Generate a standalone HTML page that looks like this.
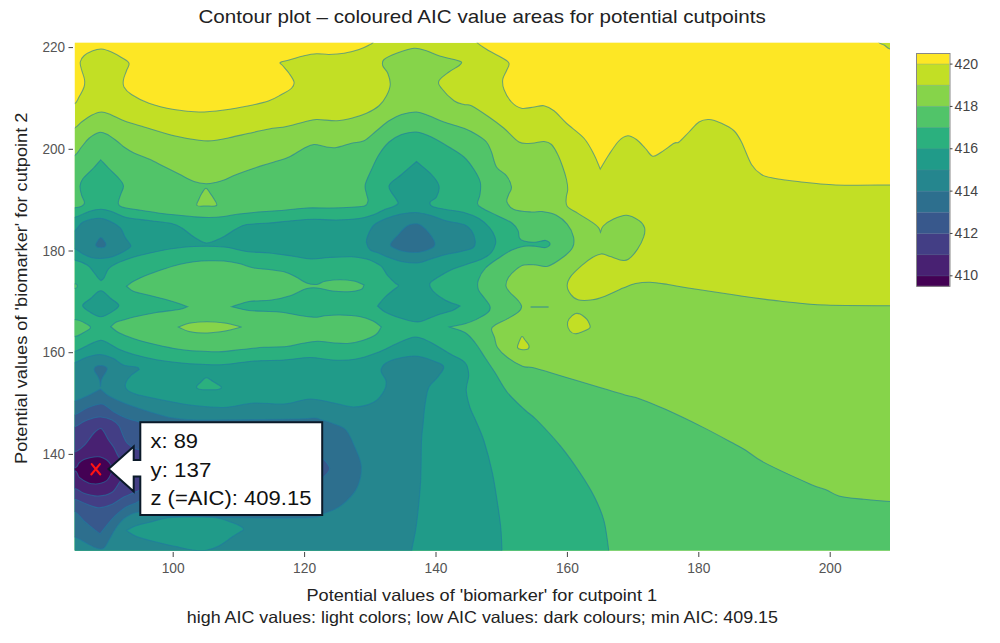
<!DOCTYPE html>
<html><head><meta charset="utf-8"><style>
html,body{margin:0;padding:0;background:#fff;}
body{width:1000px;height:643px;overflow:hidden;}
svg{display:block;font-family:"Liberation Sans",sans-serif;}
.tk{font-size:14px;fill:#555;}
.cbt{font-size:13.8px;fill:#444;}
.ttl{font-size:18.5px;fill:#222;}
.ax{font-size:16.5px;fill:#222;}
.bx{font-size:20px;fill:#111;}
</style></head><body>
<svg width="1000" height="643" viewBox="0 0 1000 643">
<defs><clipPath id="pc"><rect x="74.8" y="42.7" width="815.2" height="507.90000000000003"/></clipPath></defs>
<text x="482.1" y="23.3" class="ttl" text-anchor="middle" textLength="567.4" lengthAdjust="spacingAndGlyphs">Contour plot – coloured AIC value areas for potential cutpoints</text>
<g clip-path="url(#pc)" stroke="#1f78a4" stroke-width="1.05" stroke-opacity="0.6">
<rect x="74.8" y="42.7" width="815.2" height="507.90000000000003" fill="#c2df25" stroke="none"/>
<path d="M60.00 30.00L60.00 104.00C64.67 104.00 70.83 105.17 74.00 104.00C77.17 102.83 77.33 99.83 79.00 97.00C80.67 94.17 83.08 89.92 84.00 87.00C84.92 84.08 84.92 82.42 84.50 79.50C84.08 76.58 82.21 72.42 81.50 69.50C80.79 66.58 79.83 64.29 80.25 62.00C80.67 59.71 81.92 57.62 84.00 55.75C86.08 53.88 89.83 51.88 92.75 50.75C95.67 49.62 98.38 48.79 101.50 49.00C104.62 49.21 108.17 50.58 111.50 52.00C114.83 53.42 118.58 55.62 121.50 57.50C124.42 59.38 128.17 61.04 129.00 63.25C129.83 65.46 127.42 68.04 126.50 70.75C125.58 73.46 123.92 76.79 123.50 79.50C123.08 82.21 122.67 84.50 124.00 87.00C125.33 89.50 127.33 91.79 131.50 94.50C135.67 97.21 141.92 100.75 149.00 103.25C156.08 105.75 165.67 108.04 174.00 109.50C182.33 110.96 190.67 111.92 199.00 112.00C207.33 112.08 215.67 111.04 224.00 110.00C232.33 108.96 241.50 107.29 249.00 105.75C256.50 104.21 263.58 102.62 269.00 100.75C274.42 98.88 277.75 96.58 281.50 94.50C285.25 92.42 289.42 90.33 291.50 88.25C293.58 86.17 294.42 84.50 294.00 82.00C293.58 79.50 290.88 75.96 289.00 73.25C287.12 70.54 284.21 67.54 282.75 65.75C281.29 63.96 279.21 63.46 280.25 62.50C281.29 61.54 285.04 61.12 289.00 60.00C292.96 58.88 299.42 56.79 304.00 55.75C308.58 54.71 312.33 53.96 316.50 53.75C320.67 53.54 324.42 54.58 329.00 54.50C333.58 54.42 339.00 54.08 344.00 53.25C349.00 52.42 354.83 50.88 359.00 49.50C363.17 48.12 366.58 46.25 369.00 45.00C371.42 43.75 371.67 44.50 373.50 42.00C375.33 39.50 377.83 34.00 380.00 30.00L60.00 30.00Z" fill="#fde725"/>
<path d="M470.00 30.00C472.17 34.00 473.33 38.54 476.50 42.00C479.67 45.46 484.83 48.17 489.00 50.75C493.17 53.33 498.17 55.42 501.50 57.50C504.83 59.58 508.17 61.04 509.00 63.25C509.83 65.46 507.54 68.04 506.50 70.75C505.46 73.46 503.17 76.38 502.75 79.50C502.33 82.62 502.54 85.75 504.00 89.50C505.46 93.25 508.58 98.88 511.50 102.00C514.42 105.12 517.75 107.42 521.50 108.25C525.25 109.08 530.25 107.42 534.00 107.00C537.75 106.58 540.67 105.12 544.00 105.75C547.33 106.38 550.25 107.83 554.00 110.75C557.75 113.67 561.50 118.67 566.50 123.25C571.50 127.83 579.42 133.04 584.00 138.25C588.58 143.46 591.29 149.38 594.00 154.50C596.71 159.62 598.17 164.17 600.25 169.00C603.17 164.17 605.88 159.21 609.00 154.50C612.12 149.79 615.88 143.88 619.00 140.75C622.12 137.62 624.83 135.96 627.75 135.75C630.67 135.54 633.58 137.42 636.50 139.50C639.42 141.58 642.54 145.46 645.25 148.25C647.96 151.04 650.04 155.62 652.75 156.25C655.46 156.88 657.96 154.17 661.50 152.00C665.04 149.83 671.08 144.92 674.00 143.25C676.92 141.58 676.50 143.88 679.00 142.00C681.50 140.12 685.67 135.33 689.00 132.00C692.33 128.67 695.67 124.08 699.00 122.00C702.33 119.92 705.25 119.29 709.00 119.50C712.75 119.71 717.33 121.38 721.50 123.25C725.67 125.12 730.67 127.62 734.00 130.75C737.33 133.88 738.58 136.38 741.50 142.00C744.42 147.62 748.17 159.08 751.50 164.50C754.83 169.92 757.75 172.21 761.50 174.50C765.25 176.79 768.33 177.12 774.00 178.25C779.67 179.38 785.18 180.19 795.50 181.30C805.82 182.41 820.15 184.28 835.90 184.90C851.65 185.52 879.32 184.98 890.00 185.00C900.68 185.02 896.67 185.00 900.00 185.00L900.00 49.50C896.67 49.33 892.67 49.75 890.00 49.00C887.33 48.25 885.92 46.17 884.00 45.00C882.08 43.83 880.33 44.50 878.50 42.00C876.67 39.50 874.83 34.00 873.00 30.00L470.00 30.00Z" fill="#fde725"/>
<path d="M60.00 128.25C64.67 128.25 70.42 129.29 74.00 128.25C77.58 127.21 78.58 124.17 81.50 122.00C84.42 119.83 88.17 116.92 91.50 115.25C94.83 113.58 98.17 112.04 101.50 112.00C104.83 111.96 107.75 113.54 111.50 115.00C115.25 116.46 118.58 118.75 124.00 120.75C129.42 122.75 135.67 124.50 144.00 127.00C152.33 129.50 164.83 133.54 174.00 135.75C183.17 137.96 192.75 139.42 199.00 140.25C205.25 141.08 206.50 141.17 211.50 140.75C216.50 140.33 222.75 139.00 229.00 137.75C235.25 136.50 242.33 134.71 249.00 133.25C255.67 131.79 262.75 130.12 269.00 129.00C275.25 127.88 280.67 127.67 286.50 126.50C292.33 125.33 299.00 123.17 304.00 122.00C309.00 120.83 311.08 119.71 316.50 119.50C321.92 119.29 330.67 120.96 336.50 120.75C342.33 120.54 346.50 119.50 351.50 118.25C356.50 117.00 361.92 115.33 366.50 113.25C371.08 111.17 375.67 108.67 379.00 105.75C382.33 102.83 384.62 99.29 386.50 95.75C388.38 92.21 390.04 88.25 390.25 84.50C390.46 80.75 389.00 76.38 387.75 73.25C386.50 70.12 383.38 68.04 382.75 65.75C382.12 63.46 381.71 61.58 384.00 59.50C386.29 57.42 391.50 55.12 396.50 53.25C401.50 51.38 409.00 48.67 414.00 48.25C419.00 47.83 422.33 49.50 426.50 50.75C430.67 52.00 434.42 54.29 439.00 55.75C443.58 57.21 450.25 58.46 454.00 59.50C457.75 60.54 460.67 60.96 461.50 62.00C462.33 63.04 461.08 64.08 459.00 65.75C456.92 67.42 452.33 69.50 449.00 72.00C445.67 74.50 440.25 78.04 439.00 80.75C437.75 83.46 439.00 84.92 441.50 88.25C444.00 91.58 450.25 98.04 454.00 100.75C457.75 103.46 461.08 103.67 464.00 104.50C466.92 105.33 467.33 103.67 471.50 105.75C475.67 107.83 483.58 113.25 489.00 117.00C494.42 120.75 499.00 124.08 504.00 128.25C509.00 132.42 514.42 139.50 519.00 142.00C523.58 144.50 527.33 143.33 531.50 143.25C535.67 143.17 540.67 141.29 544.00 141.50C547.33 141.71 549.21 142.33 551.50 144.50C553.79 146.67 555.88 150.75 557.75 154.50C559.62 158.25 561.29 162.83 562.75 167.00C564.21 171.17 565.67 175.75 566.50 179.50C567.33 183.25 567.78 186.55 567.75 189.50C567.72 192.45 566.39 194.42 566.30 197.20C566.21 199.98 565.25 203.50 567.20 206.20C569.15 208.90 573.80 210.70 578.00 213.40C582.20 216.10 588.95 220.00 592.40 222.40C595.85 224.80 597.35 226.15 598.70 227.80C600.05 229.45 599.90 230.80 600.50 232.30C601.40 230.20 600.95 228.25 603.20 226.00C605.45 223.75 610.10 220.60 614.00 218.80C617.90 217.00 622.40 214.90 626.60 215.20C630.80 215.50 636.20 218.50 639.20 220.60C642.20 222.70 643.85 225.10 644.60 227.80C645.35 230.50 644.90 233.20 643.70 236.80C642.50 240.40 639.95 245.65 637.40 249.40C634.85 253.15 631.10 257.50 628.40 259.30C625.70 261.10 624.20 260.65 621.20 260.20C618.20 259.75 613.70 257.65 610.40 256.60C607.10 255.55 604.40 253.75 601.40 253.90C598.40 254.05 595.70 255.55 592.40 257.50C589.10 259.45 585.20 262.45 581.60 265.60C578.00 268.75 573.20 273.10 570.80 276.40C568.40 279.70 567.20 282.40 567.20 285.40C567.20 288.40 569.00 292.00 570.80 294.40C572.60 296.80 574.40 298.90 578.00 299.80C581.60 300.70 587.90 300.40 592.40 299.80C596.90 299.20 599.90 298.15 605.00 296.20C610.10 294.25 617.90 290.20 623.00 288.10C628.10 286.00 631.10 284.58 635.60 283.60C640.10 282.62 644.60 282.05 650.00 282.20C655.40 282.35 661.90 283.58 668.00 284.50C674.10 285.42 675.72 285.98 686.60 287.70C697.48 289.42 717.75 292.57 733.30 294.80C748.85 297.03 764.35 299.38 779.90 301.10C795.45 302.82 808.25 304.33 826.60 305.10C844.95 305.87 877.77 305.60 890.00 305.70C902.23 305.80 896.67 305.70 900.00 305.70L900.00 560.00L60.00 560.00L60.00 128.25Z" fill="#86d44a"/>
<path d="M60.00 155.75C64.67 155.75 70.42 157.21 74.00 155.75C77.58 154.29 79.00 149.92 81.50 147.00C84.00 144.08 86.08 140.67 89.00 138.25C91.92 135.83 96.08 133.21 99.00 132.50C101.92 131.79 103.58 132.62 106.50 134.00C109.42 135.38 113.58 138.58 116.50 140.75C119.42 142.92 121.08 144.96 124.00 147.00C126.92 149.04 129.83 151.00 134.00 153.00C138.17 155.00 144.00 156.75 149.00 159.00C154.00 161.25 159.00 164.00 164.00 166.50C169.00 169.00 174.00 171.50 179.00 174.00C184.00 176.50 189.50 179.88 194.00 181.50C198.50 183.12 202.25 183.62 206.00 183.75C209.75 183.88 213.50 182.88 216.50 182.25C219.50 181.62 220.67 181.29 224.00 180.00C227.33 178.71 231.50 176.46 236.50 174.50C241.50 172.54 247.75 170.33 254.00 168.25C260.25 166.17 268.17 163.88 274.00 162.00C279.83 160.12 284.00 159.29 289.00 157.00C294.00 154.71 299.83 150.33 304.00 148.25C308.17 146.17 310.25 144.71 314.00 144.50C317.75 144.29 322.75 146.50 326.50 147.00C330.25 147.50 332.33 148.12 336.50 147.50C340.67 146.88 346.92 144.38 351.50 143.25C356.08 142.12 359.83 142.83 364.00 140.75C368.17 138.67 372.33 134.08 376.50 130.75C380.67 127.42 384.83 123.46 389.00 120.75C393.17 118.04 396.92 115.96 401.50 114.50C406.08 113.04 411.92 111.79 416.50 112.00C421.08 112.21 424.42 114.08 429.00 115.75C433.58 117.42 438.17 119.92 444.00 122.00C449.83 124.08 458.58 126.17 464.00 128.25C469.42 130.33 472.75 132.21 476.50 134.50C480.25 136.79 484.00 139.08 486.50 142.00C489.00 144.92 489.83 147.83 491.50 152.00C493.17 156.17 494.00 163.04 496.50 167.00C499.00 170.96 504.00 172.42 506.50 175.75C509.00 179.08 511.17 183.79 511.50 187.00C511.83 190.21 509.25 192.50 508.50 195.00C507.75 197.50 506.08 199.58 507.00 202.00C507.92 204.42 509.92 207.83 514.00 209.50C518.08 211.17 526.83 211.65 531.50 212.00C536.17 212.35 537.85 211.07 542.00 211.60C546.15 212.13 552.20 213.10 556.40 215.20C560.60 217.30 564.35 220.60 567.20 224.20C570.05 227.80 572.60 232.90 573.50 236.80C574.40 240.70 574.18 244.32 572.60 247.60C571.02 250.88 568.10 253.40 564.00 256.50C559.90 259.60 552.67 264.78 548.00 266.20C543.33 267.62 540.00 265.20 536.00 265.00C532.00 264.80 527.40 264.20 524.00 265.00C520.60 265.80 518.20 267.70 515.60 269.80C513.00 271.90 510.00 274.90 508.40 277.60C506.80 280.30 505.80 283.60 506.00 286.00C506.20 288.40 507.60 289.60 509.60 292.00C511.60 294.40 516.00 298.00 518.00 300.40C520.00 302.80 521.60 304.40 521.60 306.40C521.60 308.40 520.60 310.20 518.00 312.40C515.40 314.60 509.67 317.58 506.00 319.60C502.33 321.62 498.42 322.93 496.00 324.50C493.58 326.07 491.75 326.83 491.50 329.00C491.25 331.17 493.50 334.42 494.50 337.50C495.50 340.58 495.33 344.17 497.50 347.50C499.67 350.83 503.33 354.38 507.50 357.50C511.67 360.62 518.33 364.58 522.50 366.25C526.67 367.92 527.92 366.46 532.50 367.50C537.08 368.54 542.92 370.42 550.00 372.50C557.08 374.58 566.67 377.50 575.00 380.00C583.33 382.50 591.67 385.00 600.00 387.50C608.33 390.00 618.33 393.10 625.00 395.00C631.67 396.90 633.35 396.55 640.00 398.90C646.65 401.25 654.53 404.43 664.90 409.10C675.27 413.77 690.80 421.20 702.20 426.90C713.60 432.60 726.05 439.42 733.30 443.30C740.55 447.18 740.52 446.98 745.70 450.20C750.88 453.42 753.52 456.90 764.40 462.60C775.28 468.30 800.63 479.83 811.00 484.40C821.37 488.97 821.93 488.08 826.60 490.00C831.27 491.92 832.78 494.35 839.00 495.90C845.22 497.45 855.40 498.37 863.90 499.30C872.40 500.23 883.98 501.13 890.00 501.50C896.02 501.87 896.67 501.50 900.00 501.50L900.00 560.00L60.00 560.00L60.00 155.75Z" fill="#51c469"/>
<path d="M60.00 207.75C64.67 207.75 70.42 208.00 74.00 207.75C77.58 207.50 79.75 207.12 81.50 206.25C83.25 205.38 84.50 204.38 84.50 202.50C84.50 200.62 82.25 197.75 81.50 195.00C80.75 192.25 79.75 188.75 80.00 186.00C80.25 183.25 80.75 181.50 83.00 178.50C85.25 175.50 90.55 171.12 93.50 168.00C96.45 164.88 98.30 162.50 100.70 159.75C103.30 162.50 105.45 164.88 108.50 168.00C111.55 171.12 116.50 175.50 119.00 178.50C121.50 181.50 123.25 183.25 123.50 186.00C123.75 188.75 121.38 192.12 120.50 195.00C119.62 197.88 118.00 201.25 118.25 203.25C118.50 205.25 119.38 206.00 122.00 207.00C124.62 208.00 129.50 208.50 134.00 209.25C138.50 210.00 144.00 210.75 149.00 211.50C154.00 212.25 159.00 213.12 164.00 213.75C169.00 214.38 174.00 214.75 179.00 215.25C184.00 215.75 189.00 216.38 194.00 216.75C199.00 217.12 204.00 217.54 209.00 217.50C214.00 217.46 219.00 217.08 224.00 216.50C229.00 215.92 232.75 214.79 239.00 214.00C245.25 213.21 254.00 212.38 261.50 211.75C269.00 211.12 276.50 210.88 284.00 210.25C291.50 209.62 299.00 208.38 306.50 208.00C314.00 207.62 321.50 208.12 329.00 208.00C336.50 207.88 345.50 207.62 351.50 207.25C357.50 206.88 362.25 206.88 365.00 205.75C367.75 204.62 367.75 202.46 368.00 200.50C368.25 198.54 366.96 196.67 366.50 194.00C366.04 191.33 364.42 188.58 365.25 184.50C366.08 180.42 369.21 174.50 371.50 169.50C373.79 164.50 376.08 159.08 379.00 154.50C381.92 149.92 385.25 145.33 389.00 142.00C392.75 138.67 396.92 136.17 401.50 134.50C406.08 132.83 411.50 131.58 416.50 132.00C421.50 132.42 426.08 134.50 431.50 137.00C436.92 139.50 443.58 143.67 449.00 147.00C454.42 150.33 459.83 153.25 464.00 157.00C468.17 160.75 471.29 165.33 474.00 169.50C476.71 173.67 479.25 177.83 480.25 182.00C481.25 186.17 480.46 190.92 480.00 194.50C479.54 198.08 477.17 201.25 477.50 203.50C477.83 205.75 478.75 206.00 482.00 208.00C485.25 210.00 492.00 213.00 497.00 215.50C502.00 218.00 508.50 220.50 512.00 223.00C515.50 225.50 516.75 228.00 518.00 230.50C519.25 233.00 518.50 236.25 519.50 238.00C520.50 239.75 521.45 240.30 524.00 241.00C526.55 241.70 531.20 242.30 534.80 242.20C538.40 242.10 543.05 240.10 545.60 240.40C548.15 240.70 550.10 242.80 550.10 244.00C550.10 245.20 548.15 247.23 545.60 247.60C543.05 247.97 538.40 246.42 534.80 246.20C531.20 245.97 527.80 245.62 524.00 246.25C520.20 246.88 516.00 248.18 512.00 250.00C508.00 251.82 504.40 254.20 500.00 257.20C495.60 260.20 489.20 264.20 485.60 268.00C482.00 271.80 479.60 276.40 478.40 280.00C477.20 283.60 477.40 286.60 478.40 289.60C479.40 292.60 482.47 295.20 484.40 298.00C486.33 300.80 489.40 304.00 490.00 306.40C490.60 308.80 490.33 310.20 488.00 312.40C485.67 314.60 479.83 317.71 476.00 319.60C472.17 321.49 469.42 322.52 465.00 323.75C460.58 324.98 454.67 325.92 449.50 327.00C454.67 328.83 460.75 329.92 465.00 332.50C469.25 335.08 471.67 338.33 475.00 342.50C478.33 346.67 481.67 352.50 485.00 357.50C488.33 362.50 491.25 366.67 495.00 372.50C498.75 378.33 502.50 386.25 507.50 392.50C512.50 398.75 520.12 405.42 525.00 410.00C529.88 414.58 530.83 413.93 536.80 420.00C542.77 426.07 553.60 437.60 560.80 446.40C568.00 455.20 574.40 464.40 580.00 472.80C585.60 481.20 590.40 488.80 594.40 496.80C598.40 504.80 601.60 511.80 604.00 520.80C606.40 529.80 607.80 544.27 608.80 550.80C609.80 557.33 609.60 556.93 610.00 560.00L60.00 560.00L60.00 207.75Z" fill="#2bb07e"/>
<path d="M60.00 217.50C64.67 217.50 69.17 218.50 74.00 217.50C78.83 216.50 84.50 212.88 89.00 211.50C93.50 210.12 97.25 209.25 101.00 209.25C104.75 209.25 107.25 210.12 111.50 211.50C115.75 212.88 120.25 216.00 126.50 217.50C132.75 219.00 141.50 219.50 149.00 220.50C156.50 221.50 166.00 222.25 171.50 223.50C177.00 224.75 178.25 225.75 182.00 228.00C185.75 230.25 190.00 234.50 194.00 237.00C198.00 239.50 202.25 242.50 206.00 243.00C209.75 243.50 213.50 241.08 216.50 240.00C219.50 238.92 220.75 238.33 224.00 236.50C227.25 234.67 232.25 231.00 236.00 229.00C239.75 227.00 241.00 225.50 246.50 224.50C252.00 223.50 261.50 223.62 269.00 223.00C276.50 222.38 284.00 221.38 291.50 220.75C299.00 220.12 306.50 219.38 314.00 219.25C321.50 219.12 329.00 220.12 336.50 220.00C344.00 219.88 352.75 219.42 359.00 218.50C365.25 217.58 370.00 215.88 374.00 214.50C378.00 213.12 379.75 211.58 383.00 210.25C386.25 208.92 391.00 207.62 393.50 206.50C396.00 205.38 397.58 204.75 398.00 203.50C398.42 202.25 397.50 201.96 396.00 199.00C394.50 196.04 388.08 189.83 389.00 185.75C389.92 181.67 396.92 178.54 401.50 174.50C406.08 170.46 411.50 165.83 416.50 161.50C421.50 165.83 427.75 170.46 431.50 174.50C435.25 178.54 438.17 182.00 439.00 185.75C439.83 189.50 437.96 194.29 436.50 197.00C435.04 199.71 430.92 200.42 430.25 202.00C429.58 203.58 429.88 205.25 432.50 206.50C435.12 207.75 440.75 208.50 446.00 209.50C451.25 210.50 458.50 211.00 464.00 212.50C469.50 214.00 474.75 216.00 479.00 218.50C483.25 221.00 486.88 224.50 489.50 227.50C492.12 230.50 493.75 233.75 494.75 236.50C495.75 239.25 496.12 241.25 495.50 244.00C494.88 246.75 493.25 250.50 491.00 253.00C488.75 255.50 486.00 257.12 482.00 259.00C478.00 260.88 472.00 262.50 467.00 264.25C462.00 266.00 456.75 267.38 452.00 269.50C447.25 271.62 442.17 274.67 438.50 277.00C434.83 279.33 430.92 281.17 430.00 283.50C429.08 285.83 430.50 288.25 433.00 291.00C435.50 293.75 440.50 297.50 445.00 300.00C449.50 302.50 455.00 304.00 460.00 306.00C457.50 307.50 456.25 309.00 452.50 310.50C448.75 312.00 442.50 313.25 437.50 315.00C432.50 316.75 426.25 319.88 422.50 321.00C418.75 322.12 418.75 322.25 415.00 321.75C411.25 321.25 405.00 319.62 400.00 318.00C395.00 316.38 388.75 314.00 385.00 312.00C381.25 310.00 380.00 308.00 377.50 306.00C380.00 303.00 382.25 299.75 385.00 297.00C387.75 294.25 391.75 291.38 394.00 289.50C396.25 287.62 398.33 286.83 398.50 285.75C398.67 284.67 396.83 284.71 395.00 283.00C393.17 281.29 389.75 278.25 387.50 275.50C385.25 272.75 383.75 268.75 381.50 266.50C379.25 264.25 376.50 263.25 374.00 262.00C371.50 260.75 370.25 259.88 366.50 259.00C362.75 258.12 357.75 257.00 351.50 256.75C345.25 256.50 335.75 257.12 329.00 257.50C322.25 257.88 317.25 259.25 311.00 259.00C304.75 258.75 298.50 257.00 291.50 256.00C284.50 255.00 276.50 253.75 269.00 253.00C261.50 252.25 254.00 252.50 246.50 251.50C239.00 250.50 232.75 247.83 224.00 247.00C215.25 246.17 202.75 246.21 194.00 246.50C185.25 246.79 179.00 247.62 171.50 248.75C164.00 249.88 155.25 251.88 149.00 253.25C142.75 254.62 139.50 255.25 134.00 257.00C128.50 258.75 120.25 261.75 116.00 263.75C111.75 265.75 110.50 266.62 108.50 269.00C106.50 271.38 105.25 276.08 104.00 278.00C102.75 279.92 102.00 279.67 101.00 280.50C100.25 279.92 100.00 280.17 98.75 278.75C97.50 277.33 95.38 274.25 93.50 272.00C91.62 269.75 90.75 267.25 87.50 265.25C84.25 263.25 78.58 260.88 74.00 260.00C69.42 259.12 64.67 260.00 60.00 260.00L60.00 217.50Z" fill="#209b89"/>
<path d="M100.70 290.70C97.28 290.70 93.52 296.02 90.50 298.50C87.48 300.98 82.60 303.27 82.60 305.60C82.60 307.93 87.48 310.63 90.50 312.50C93.52 314.37 97.28 316.80 100.70 316.80C104.12 316.80 107.97 314.37 111.00 312.50C114.03 310.63 118.90 307.93 118.90 305.60C118.90 303.27 114.03 300.98 111.00 298.50C107.97 296.02 104.12 290.70 100.70 290.70Z" fill="#209b89"/>
<path d="M60.00 351.50C64.67 351.50 69.67 352.38 74.00 351.50C78.33 350.62 82.75 347.75 86.00 346.25C89.25 344.75 91.00 343.50 93.50 342.50C96.00 341.50 98.50 340.12 101.00 340.25C103.50 340.38 105.50 341.75 108.50 343.25C111.50 344.75 114.75 347.38 119.00 349.25C123.25 351.12 127.75 352.75 134.00 354.50C140.25 356.25 149.00 358.38 156.50 359.75C164.00 361.12 171.50 362.00 179.00 362.75C186.50 363.50 194.00 363.96 201.50 364.25C209.00 364.54 215.25 365.04 224.00 364.50C232.75 363.96 244.00 361.75 254.00 361.00C264.00 360.25 274.67 360.58 284.00 360.00C293.33 359.42 301.92 357.50 310.00 357.50C318.08 357.50 325.00 359.71 332.50 360.00C340.00 360.29 347.50 360.50 355.00 359.25C362.50 358.00 370.50 355.12 377.50 352.50C384.50 349.88 390.75 346.08 397.00 343.50C403.25 340.92 409.50 337.25 415.00 337.00C420.50 336.75 424.17 339.21 430.00 342.00C435.83 344.79 444.17 350.33 450.00 353.75C455.83 357.17 461.88 358.96 465.00 362.50C468.12 366.04 468.54 370.42 468.75 375.00C468.96 379.58 466.04 384.58 466.25 390.00C466.46 395.42 468.46 402.50 470.00 407.50C471.54 412.50 473.17 414.42 475.50 420.00C477.83 425.58 481.18 432.18 484.00 441.00C486.82 449.82 490.12 462.30 492.40 472.90C494.68 483.50 496.30 495.42 497.70 504.60C499.10 513.78 500.08 520.30 500.80 528.00C501.52 535.70 501.80 545.47 502.00 550.80C502.20 556.13 502.00 556.93 502.00 560.00L60.00 560.00L60.00 351.50Z" fill="#209b89"/>
<path d="M60.00 231.00C64.67 231.00 70.17 232.50 74.00 231.00C77.83 229.50 78.75 224.12 83.00 222.00C87.25 219.88 94.75 218.25 99.50 218.25C104.25 218.25 108.00 220.38 111.50 222.00C115.00 223.62 118.25 225.50 120.50 228.00C122.75 230.50 123.42 234.33 125.00 237.00C126.58 239.67 129.12 242.29 130.00 244.00C130.88 245.71 131.58 245.83 130.25 247.25C128.92 248.67 125.12 250.88 122.00 252.50C118.88 254.12 115.00 256.00 111.50 257.00C108.00 258.00 104.25 258.38 101.00 258.50C97.75 258.62 95.00 258.50 92.00 257.75C89.00 257.00 86.00 255.50 83.00 254.00C80.00 252.50 77.83 249.62 74.00 248.75C70.17 247.88 64.67 248.75 60.00 248.75L60.00 231.00Z" fill="#25868e"/>
<path d="M366.50 242.50C366.12 240.00 366.75 237.92 368.00 235.00C369.25 232.08 371.00 227.75 374.00 225.00C377.00 222.25 381.50 220.33 386.00 218.50C390.50 216.67 396.00 215.00 401.00 214.00C406.00 213.00 411.00 212.25 416.00 212.50C421.00 212.75 426.00 214.12 431.00 215.50C436.00 216.88 440.50 219.25 446.00 220.75C451.50 222.25 459.75 222.88 464.00 224.50C468.25 226.12 469.62 227.75 471.50 230.50C473.38 233.25 475.00 238.12 475.25 241.00C475.50 243.88 475.38 246.00 473.00 247.75C470.62 249.50 465.50 250.38 461.00 251.50C456.50 252.62 451.00 253.25 446.00 254.50C441.00 255.75 435.50 257.62 431.00 259.00C426.50 260.38 423.50 262.25 419.00 262.75C414.50 263.25 409.00 262.88 404.00 262.00C399.00 261.12 393.25 259.00 389.00 257.50C384.75 256.00 381.62 254.25 378.50 253.00C375.38 251.75 372.25 251.75 370.25 250.00C368.25 248.25 366.88 245.00 366.50 242.50Z" fill="#25868e"/>
<path d="M60.00 362.75C64.67 362.75 69.67 363.62 74.00 362.75C78.33 361.88 81.75 358.88 86.00 357.50C90.25 356.12 95.00 354.38 99.50 354.50C104.00 354.62 109.00 356.50 113.00 358.25C117.00 360.00 119.50 363.50 123.50 365.00C127.50 366.50 134.38 366.50 137.00 367.25C139.62 368.00 138.50 368.75 139.25 369.50C136.50 371.50 133.25 373.25 131.00 375.50C128.75 377.75 126.50 380.75 125.75 383.00C125.00 385.25 125.12 387.25 126.50 389.00C127.88 390.75 130.25 392.12 134.00 393.50C137.75 394.88 142.75 395.88 149.00 397.25C155.25 398.62 164.00 400.38 171.50 401.75C179.00 403.12 185.25 404.54 194.00 405.50C202.75 406.46 214.00 407.92 224.00 407.50C234.00 407.08 244.00 403.58 254.00 403.00C264.00 402.42 274.67 404.67 284.00 404.00C293.33 403.33 301.67 399.17 310.00 399.00C318.33 398.83 326.67 401.67 334.00 403.00C341.33 404.33 347.33 407.17 354.00 407.00C360.67 406.83 369.00 404.67 374.00 402.00C379.00 399.33 382.00 394.50 384.00 391.00C386.00 387.50 386.50 384.33 386.00 381.00C385.50 377.67 381.00 374.00 381.00 371.00C381.00 368.00 382.83 365.17 386.00 363.00C389.17 360.83 394.75 359.12 400.00 358.00C405.25 356.88 411.25 355.50 417.50 356.25C423.75 357.00 433.12 360.62 437.50 362.50C441.88 364.38 443.75 365.00 443.75 367.50C443.75 370.00 440.00 374.17 437.50 377.50C435.00 380.83 430.83 382.92 428.75 387.50C426.67 392.08 425.96 398.75 425.00 405.00C424.04 411.25 423.58 419.00 423.00 425.00C422.42 431.00 421.92 431.27 421.50 441.00C421.08 450.73 421.37 469.28 420.50 483.40C419.63 497.52 417.72 514.77 416.30 525.70C414.88 536.63 412.72 543.28 412.00 549.00C411.28 554.72 412.00 556.33 412.00 560.00L60.00 560.00L60.00 362.75Z" fill="#25868e"/>
<path d="M390.50 244.00C391.25 241.88 395.25 238.00 398.00 235.00C400.75 232.00 404.00 227.88 407.00 226.00C410.00 224.12 413.50 223.75 416.00 223.75C418.50 223.75 419.75 224.38 422.00 226.00C424.25 227.62 427.38 230.75 429.50 233.50C431.62 236.25 434.25 240.12 434.75 242.50C435.25 244.88 435.12 246.12 432.50 247.75C429.88 249.38 423.75 251.62 419.00 252.25C414.25 252.88 408.25 252.25 404.00 251.50C399.75 250.75 395.75 249.00 393.50 247.75C391.25 246.50 389.75 246.12 390.50 244.00Z" fill="#2d6f8e"/>
<path d="M100.70 237.50C99.37 237.50 97.83 240.75 97.00 242.00C96.17 243.25 95.58 244.12 95.75 245.00C95.92 245.88 96.62 246.88 98.00 247.25C99.38 247.62 102.67 247.62 104.00 247.25C105.33 246.88 105.83 245.88 106.00 245.00C106.17 244.12 105.88 243.25 105.00 242.00C104.12 240.75 102.03 237.50 100.70 237.50Z" fill="#2d6f8e"/>
<path d="M94.50 368.00C94.92 367.17 96.00 366.42 97.00 366.00C98.00 365.58 99.33 365.50 100.50 365.50C101.67 365.50 102.92 365.58 104.00 366.00C105.08 366.42 106.58 367.17 107.00 368.00C107.42 368.83 107.00 369.83 106.50 371.00C106.00 372.17 104.83 373.50 104.00 375.00C103.17 376.50 102.08 378.00 101.50 380.00C100.92 382.00 100.83 384.67 100.50 387.00C100.17 384.67 100.08 382.00 99.50 380.00C98.92 378.00 97.83 376.50 97.00 375.00C96.17 373.50 94.92 372.17 94.50 371.00C94.08 369.83 94.08 368.83 94.50 368.00Z" fill="#2d6f8e"/>
<path d="M60.00 401.00C64.67 401.00 69.50 401.83 74.00 401.00C78.50 400.17 82.58 398.00 87.00 396.00C91.42 394.00 96.00 391.33 100.50 389.00C103.33 391.33 105.08 393.67 109.00 396.00C112.92 398.33 118.17 400.67 124.00 403.00C129.83 405.33 137.33 407.83 144.00 410.00C150.67 412.17 159.00 414.67 164.00 416.00C169.00 417.33 168.00 417.33 174.00 418.00C180.00 418.67 180.00 419.83 200.00 420.00C220.00 420.17 275.00 419.33 294.00 419.00C313.00 418.67 309.33 417.83 314.00 418.00C318.67 418.17 318.67 419.00 322.00 420.00C325.33 421.00 330.00 422.33 334.00 424.00C338.00 425.67 342.50 426.08 346.00 430.00C349.50 433.92 352.45 441.42 355.00 447.50C357.55 453.58 360.97 459.80 361.30 466.50C361.63 473.20 360.17 481.35 357.00 487.70C353.83 494.05 347.57 500.38 342.30 504.60C337.03 508.82 332.45 510.77 325.40 513.00C318.35 515.23 327.57 517.50 300.00 518.00C272.43 518.50 186.67 517.00 160.00 516.00C133.33 515.00 145.63 511.83 140.00 512.00C134.37 512.17 129.95 514.70 126.20 517.00C122.45 519.30 120.20 522.27 117.50 525.80C114.80 529.33 112.27 534.48 110.00 538.20C107.73 541.92 106.17 546.45 103.90 548.10C101.63 549.75 99.32 548.92 96.40 548.10C93.48 547.28 90.13 545.05 86.40 543.20C82.67 541.35 78.40 538.03 74.00 537.00C69.60 535.97 64.67 537.00 60.00 537.00L60.00 401.00Z" fill="#2d6f8e"/>
<path d="M60.00 415.00C64.67 415.00 69.50 416.17 74.00 415.00C78.50 413.83 82.58 409.83 87.00 408.00C91.42 406.17 97.33 404.33 100.50 404.00C103.67 403.67 103.75 404.67 106.00 406.00C108.25 407.33 110.67 410.00 114.00 412.00C117.33 414.00 121.83 416.33 126.00 418.00C130.17 419.67 135.00 420.67 139.00 422.00C143.00 423.33 146.33 424.67 150.00 426.00L150.00 500.00C146.67 500.33 142.30 500.55 140.00 501.00C137.70 501.45 138.50 501.70 136.20 502.70C133.90 503.70 129.73 504.82 126.20 507.00C122.67 509.18 118.32 512.67 115.00 515.80C111.68 518.93 108.80 522.80 106.30 525.80C103.80 528.80 102.10 531.13 100.00 533.80C97.57 531.93 95.37 530.37 92.70 528.20C90.03 526.03 87.12 523.58 84.00 520.80C80.88 518.02 78.00 513.05 74.00 511.50C70.00 509.95 64.67 511.50 60.00 511.50L60.00 415.00Z" fill="#38588c"/>
<path d="M315.00 455.00C317.40 456.00 319.77 455.73 322.20 458.00C324.63 460.27 329.60 465.27 329.60 468.60C329.60 471.93 324.63 476.10 322.20 478.00C319.77 479.90 317.40 479.33 315.00 480.00L315.00 455.00Z" fill="#38588c"/>
<path d="M60.00 427.00C64.67 427.00 70.00 427.92 74.00 427.00C78.00 426.08 81.00 422.92 84.00 421.50C87.00 420.08 89.25 419.25 92.00 418.50C94.75 417.75 97.17 416.75 100.50 417.00C103.83 417.25 108.92 418.50 112.00 420.00C115.08 421.50 117.17 423.42 119.00 426.00C120.83 428.58 121.67 432.67 123.00 435.50C124.33 438.33 125.17 440.92 127.00 443.00C128.83 445.08 131.83 446.83 134.00 448.00C136.17 449.17 138.00 449.33 140.00 450.00L140.00 490.00C137.90 490.93 136.40 491.63 133.70 492.80C131.00 493.97 127.53 495.03 123.80 497.00C120.07 498.97 115.43 502.82 111.30 504.60C107.17 506.38 103.15 507.80 99.00 507.70C94.85 507.60 90.57 505.45 86.40 504.00C82.23 502.55 78.40 499.83 74.00 499.00C69.60 498.17 64.67 499.00 60.00 499.00L60.00 427.00Z" fill="#433e85"/>
<path d="M60.00 452.00C64.90 452.00 70.70 453.07 74.70 452.00C78.70 450.93 81.67 447.60 84.00 445.60C86.33 443.60 87.03 442.10 88.70 440.00C90.37 437.90 92.03 434.92 94.00 433.00C95.97 431.08 98.83 428.67 100.50 428.50C102.17 428.33 102.67 430.08 104.00 432.00C105.33 433.92 106.87 437.42 108.50 440.00C110.13 442.58 112.13 444.70 113.80 447.50C115.47 450.30 116.63 453.88 118.50 456.80C120.37 459.72 123.42 461.97 125.00 465.00C126.58 468.03 128.77 472.33 128.00 475.00C127.23 477.67 123.07 478.13 120.40 481.00C117.73 483.87 115.73 489.70 112.00 492.20C108.27 494.70 102.67 495.83 98.00 496.00C93.33 496.17 87.88 494.45 84.00 493.20C80.12 491.95 78.70 489.28 74.70 488.50C70.70 487.72 64.90 488.50 60.00 488.50L60.00 452.00Z" fill="#482172"/>
<path d="M60.00 468.00C65.00 468.00 71.83 468.83 75.00 468.00C78.17 467.17 77.50 464.40 79.00 463.00C80.50 461.60 82.00 460.52 84.00 459.60C86.00 458.68 88.67 457.97 91.00 457.50C93.33 457.03 96.00 456.72 98.00 456.80C100.00 456.88 101.45 457.38 103.00 458.00C104.55 458.62 105.97 459.30 107.30 460.50C108.63 461.70 110.22 463.78 111.00 465.20C111.78 466.62 112.00 467.60 112.00 469.00C112.00 470.40 111.78 471.77 111.00 473.60C110.22 475.43 108.63 478.52 107.30 480.00C105.97 481.48 104.55 481.87 103.00 482.50C101.45 483.13 99.67 483.58 98.00 483.80C96.33 484.02 94.55 483.93 93.00 483.80C91.45 483.67 90.98 484.08 88.70 483.00C86.42 481.92 81.58 479.33 79.30 477.30C77.02 475.27 78.22 471.88 75.00 470.80C71.78 469.72 65.00 470.80 60.00 470.80L60.00 468.00Z" fill="#440154"/>
<path d="M522.00 336.50C521.00 336.83 519.75 340.17 519.00 342.00C518.25 343.83 517.17 346.25 517.50 347.50C517.83 348.75 519.25 349.25 521.00 349.50C522.75 349.75 526.71 349.75 528.00 349.00C529.29 348.25 529.25 346.50 528.75 345.00C528.25 343.50 526.12 341.42 525.00 340.00C523.88 338.58 523.00 336.17 522.00 336.50Z" fill="#c2df25"/>
<path d="M575.00 313.75C573.17 314.58 570.25 317.12 569.00 319.00C567.75 320.88 567.33 323.00 567.50 325.00C567.67 327.00 568.75 329.54 570.00 331.00C571.25 332.46 572.83 333.67 575.00 333.75C577.17 333.83 580.50 332.54 583.00 331.50C585.50 330.46 589.17 329.25 590.00 327.50C590.83 325.75 588.83 322.67 588.00 321.00C587.17 319.33 586.33 318.67 585.00 317.50C583.67 316.33 581.67 314.62 580.00 314.00C578.33 313.38 576.83 312.92 575.00 313.75Z" fill="#c2df25"/>
<path d="M206.00 188.25C204.67 188.25 203.17 191.21 202.00 193.00C200.83 194.79 199.83 196.92 199.00 199.00C198.17 201.08 195.83 204.33 197.00 205.50C198.17 206.67 202.75 206.00 206.00 206.00C209.25 206.00 215.17 206.67 216.50 205.50C217.83 204.33 215.08 201.08 214.00 199.00C212.92 196.92 211.33 194.79 210.00 193.00C208.67 191.21 207.33 188.25 206.00 188.25Z" fill="#86d44a"/>
<path d="M60.00 319.50C64.97 319.50 71.03 319.07 74.90 319.50C78.77 319.93 80.60 320.78 83.20 322.10C85.80 323.42 90.50 325.63 90.50 327.40C90.50 329.17 85.80 331.17 83.20 332.70C80.60 334.23 78.77 335.95 74.90 336.60C71.03 337.25 64.97 336.60 60.00 336.60L60.00 319.50Z" fill="#51c469"/>
<path d="M60.00 283.80C64.97 283.80 72.02 283.42 74.90 283.80C77.78 284.18 77.30 285.33 77.30 286.10C77.30 286.87 77.78 288.02 74.90 288.40C72.02 288.78 64.97 288.40 60.00 288.40L60.00 283.80Z" fill="#51c469"/>
<path d="M126.50 286.25C129.00 284.50 130.25 283.00 134.00 281.00C137.75 279.00 144.00 276.25 149.00 274.25C154.00 272.25 159.00 270.62 164.00 269.00C169.00 267.38 174.00 265.70 179.00 264.50C184.00 263.30 189.00 262.43 194.00 261.80C199.00 261.18 204.00 260.88 209.00 260.75C214.00 260.62 219.00 260.54 224.00 261.00C229.00 261.46 234.00 262.33 239.00 263.50C244.00 264.67 249.00 267.00 254.00 268.00C259.00 269.00 264.00 268.88 269.00 269.50C274.00 270.12 279.50 270.50 284.00 271.75C288.50 273.00 292.25 275.12 296.00 277.00C299.75 278.88 303.00 281.75 306.50 283.00C310.00 284.25 313.92 284.79 317.00 284.50C320.08 284.21 321.17 282.04 325.00 281.25C328.83 280.46 335.00 279.75 340.00 279.75C345.00 279.75 351.00 280.38 355.00 281.25C359.00 282.12 361.00 283.75 364.00 285.00C363.00 286.50 363.75 288.38 361.00 289.50C358.25 290.62 352.25 291.50 347.50 291.75C342.75 292.00 337.50 291.62 332.50 291.00C327.50 290.38 321.92 288.38 317.50 288.00C313.08 287.62 310.42 287.50 306.00 288.75C301.58 290.00 296.75 293.62 291.00 295.50C285.25 297.38 278.50 299.00 271.50 300.00C264.50 301.00 255.62 300.38 249.00 301.50C242.38 302.62 237.50 305.00 231.75 306.75C237.50 308.00 241.12 309.62 249.00 310.50C256.88 311.38 270.25 311.12 279.00 312.00C287.75 312.88 295.25 314.88 301.50 315.75C307.75 316.62 312.58 317.25 316.50 317.25C320.42 317.25 321.08 316.12 325.00 315.75C328.92 315.38 334.25 314.88 340.00 315.00C345.75 315.12 354.00 315.50 359.50 316.50C365.00 317.50 369.38 319.25 373.00 321.00C376.62 322.75 378.50 325.00 381.25 327.00C379.50 329.50 379.12 332.25 376.00 334.50C372.88 336.75 367.25 339.00 362.50 340.50C357.75 342.00 352.50 343.12 347.50 343.50C342.50 343.88 337.50 343.12 332.50 342.75C327.50 342.38 322.67 341.12 317.50 341.25C312.33 341.38 306.67 342.62 301.50 343.50C296.33 344.38 292.75 345.88 286.50 346.50C280.25 347.12 271.50 346.75 264.00 347.25C256.50 347.75 249.00 348.75 241.50 349.50C234.00 350.25 226.50 351.50 219.00 351.75C211.50 352.00 203.17 351.42 196.50 351.00C189.83 350.58 185.67 350.29 179.00 349.25C172.33 348.21 164.00 346.50 156.50 344.75C149.00 343.00 140.25 340.75 134.00 338.75C127.75 336.75 122.88 334.75 119.00 332.75C115.12 330.75 113.50 328.75 110.75 326.75C112.50 325.25 113.88 323.38 116.00 322.25C118.12 321.12 120.50 320.88 123.50 320.00C126.50 319.12 128.50 318.25 134.00 317.00C139.50 315.75 149.00 313.75 156.50 312.50C164.00 311.25 173.83 310.46 179.00 309.50C184.17 308.54 184.67 307.67 187.50 306.75C184.67 305.67 182.92 304.79 179.00 303.50C175.08 302.21 169.00 300.38 164.00 299.00C159.00 297.62 154.00 296.50 149.00 295.25C144.00 294.00 137.75 293.00 134.00 291.50C130.25 290.00 129.00 288.00 126.50 286.25Z" fill="#51c469"/>
<path d="M178.50 327.00C182.00 325.75 184.25 324.12 189.00 323.25C193.75 322.38 200.75 321.75 207.00 321.75C213.25 321.75 220.75 322.38 226.50 323.25C232.25 324.12 236.50 325.75 241.50 327.00C236.50 328.25 232.25 329.75 226.50 330.75C220.75 331.75 213.25 332.88 207.00 333.00C200.75 333.12 193.75 332.50 189.00 331.50C184.25 330.50 182.00 328.50 178.50 327.00Z" fill="#86d44a"/>
<path d="M206.20 377.80C204.20 377.88 202.62 380.48 201.00 382.00C199.38 383.52 196.50 385.65 196.50 386.90C196.50 388.15 198.75 389.02 201.00 389.50C203.25 389.98 207.17 389.80 210.00 389.80C212.83 389.80 216.13 389.98 218.00 389.50C219.87 389.02 222.03 388.23 221.20 386.90C220.37 385.57 215.50 383.02 213.00 381.50C210.50 379.98 208.20 377.72 206.20 377.80Z" fill="#2bb07e"/>
<path d="M126.40 530.60C129.60 529.00 131.73 527.27 136.00 525.80C140.27 524.33 146.67 523.13 152.00 521.80C157.33 520.47 161.33 518.60 168.00 517.80C174.67 517.00 184.00 517.00 192.00 517.00C200.00 517.00 209.33 516.87 216.00 517.80C222.67 518.73 227.83 521.15 232.00 522.60C236.17 524.05 239.08 525.35 241.00 526.50C242.92 527.65 243.67 528.58 243.50 529.50C243.33 530.42 241.92 530.75 240.00 532.00C238.08 533.25 235.47 534.70 232.00 537.00C228.53 539.30 223.20 543.67 219.20 545.80C215.20 547.93 211.73 549.00 208.00 549.80C204.27 550.60 202.13 551.13 196.80 550.60C191.47 550.07 183.47 548.20 176.00 546.60C168.53 545.00 158.67 542.73 152.00 541.00C145.33 539.27 140.27 537.93 136.00 536.20C131.73 534.47 129.60 532.47 126.40 530.60Z" fill="#209b89"/>
<line x1="530.6" y1="307" x2="548.6" y2="307" stroke-width="1.4"/>
</g>
<line x1="173.20" x2="173.20" y1="552" y2="557" stroke="#444" stroke-width="1"/>
<text x="173.20" y="573" class="tk" text-anchor="middle" textLength="23" lengthAdjust="spacingAndGlyphs">100</text>
<line x1="304.60" x2="304.60" y1="552" y2="557" stroke="#444" stroke-width="1"/>
<text x="304.60" y="573" class="tk" text-anchor="middle" textLength="23" lengthAdjust="spacingAndGlyphs">120</text>
<line x1="436.00" x2="436.00" y1="552" y2="557" stroke="#444" stroke-width="1"/>
<text x="436.00" y="573" class="tk" text-anchor="middle" textLength="23" lengthAdjust="spacingAndGlyphs">140</text>
<line x1="567.40" x2="567.40" y1="552" y2="557" stroke="#444" stroke-width="1"/>
<text x="567.40" y="573" class="tk" text-anchor="middle" textLength="23" lengthAdjust="spacingAndGlyphs">160</text>
<line x1="698.80" x2="698.80" y1="552" y2="557" stroke="#444" stroke-width="1"/>
<text x="698.80" y="573" class="tk" text-anchor="middle" textLength="23" lengthAdjust="spacingAndGlyphs">180</text>
<line x1="830.20" x2="830.20" y1="552" y2="557" stroke="#444" stroke-width="1"/>
<text x="830.20" y="573" class="tk" text-anchor="middle" textLength="23" lengthAdjust="spacingAndGlyphs">200</text>
<line x1="68.5" x2="73" y1="454.40" y2="454.40" stroke="#444" stroke-width="1"/>
<text x="65" y="459.00" class="tk" text-anchor="end" textLength="22.6" lengthAdjust="spacingAndGlyphs">140</text>
<line x1="68.5" x2="73" y1="352.70" y2="352.70" stroke="#444" stroke-width="1"/>
<text x="65" y="357.30" class="tk" text-anchor="end" textLength="22.6" lengthAdjust="spacingAndGlyphs">160</text>
<line x1="68.5" x2="73" y1="251.00" y2="251.00" stroke="#444" stroke-width="1"/>
<text x="65" y="255.60" class="tk" text-anchor="end" textLength="22.6" lengthAdjust="spacingAndGlyphs">180</text>
<line x1="68.5" x2="73" y1="149.30" y2="149.30" stroke="#444" stroke-width="1"/>
<text x="65" y="153.90" class="tk" text-anchor="end" textLength="22.6" lengthAdjust="spacingAndGlyphs">200</text>
<line x1="68.5" x2="73" y1="47.60" y2="47.60" stroke="#444" stroke-width="1"/>
<text x="65" y="52.20" class="tk" text-anchor="end" textLength="22.6" lengthAdjust="spacingAndGlyphs">220</text>
<rect x="917.00" y="53.51" width="32.50" height="10.89" fill="#fde725"/>
<rect x="917.00" y="64.10" width="32.50" height="21.47" fill="#c2df25"/>
<rect x="917.00" y="85.27" width="32.50" height="21.47" fill="#86d44a"/>
<rect x="917.00" y="106.44" width="32.50" height="21.47" fill="#51c469"/>
<rect x="917.00" y="127.61" width="32.50" height="21.47" fill="#2bb07e"/>
<rect x="917.00" y="148.78" width="32.50" height="21.47" fill="#209b89"/>
<rect x="917.00" y="169.95" width="32.50" height="21.47" fill="#25868e"/>
<rect x="917.00" y="191.12" width="32.50" height="21.47" fill="#2d6f8e"/>
<rect x="917.00" y="212.29" width="32.50" height="21.47" fill="#38588c"/>
<rect x="917.00" y="233.46" width="32.50" height="21.47" fill="#433e85"/>
<rect x="917.00" y="254.63" width="32.50" height="21.47" fill="#482172"/>
<rect x="917.00" y="275.80" width="32.50" height="10.89" fill="#440154"/>
<line x1="917.00" x2="949.50" y1="275.80" y2="275.80" stroke="#5a8a9a" stroke-width="0.5" stroke-opacity="0.6"/>
<line x1="917.00" x2="949.50" y1="254.63" y2="254.63" stroke="#5a8a9a" stroke-width="0.5" stroke-opacity="0.6"/>
<line x1="917.00" x2="949.50" y1="233.46" y2="233.46" stroke="#5a8a9a" stroke-width="0.5" stroke-opacity="0.6"/>
<line x1="917.00" x2="949.50" y1="212.29" y2="212.29" stroke="#5a8a9a" stroke-width="0.5" stroke-opacity="0.6"/>
<line x1="917.00" x2="949.50" y1="191.12" y2="191.12" stroke="#5a8a9a" stroke-width="0.5" stroke-opacity="0.6"/>
<line x1="917.00" x2="949.50" y1="169.95" y2="169.95" stroke="#5a8a9a" stroke-width="0.5" stroke-opacity="0.6"/>
<line x1="917.00" x2="949.50" y1="148.78" y2="148.78" stroke="#5a8a9a" stroke-width="0.5" stroke-opacity="0.6"/>
<line x1="917.00" x2="949.50" y1="127.61" y2="127.61" stroke="#5a8a9a" stroke-width="0.5" stroke-opacity="0.6"/>
<line x1="917.00" x2="949.50" y1="106.44" y2="106.44" stroke="#5a8a9a" stroke-width="0.5" stroke-opacity="0.6"/>
<line x1="917.00" x2="949.50" y1="85.27" y2="85.27" stroke="#5a8a9a" stroke-width="0.5" stroke-opacity="0.6"/>
<line x1="917.00" x2="949.50" y1="64.10" y2="64.10" stroke="#5a8a9a" stroke-width="0.5" stroke-opacity="0.6"/>
<rect x="916.50" y="53.50" width="33.50" height="232.80" fill="none" stroke="#888" stroke-width="1"/>
<line x1="950.00" x2="952.50" y1="275.80" y2="275.80" stroke="#444" stroke-width="1"/>
<text x="954.6" y="280.30" class="cbt" textLength="23.5" lengthAdjust="spacingAndGlyphs">410</text>
<line x1="950.00" x2="952.50" y1="233.46" y2="233.46" stroke="#444" stroke-width="1"/>
<text x="954.6" y="237.96" class="cbt" textLength="23.5" lengthAdjust="spacingAndGlyphs">412</text>
<line x1="950.00" x2="952.50" y1="191.12" y2="191.12" stroke="#444" stroke-width="1"/>
<text x="954.6" y="195.62" class="cbt" textLength="23.5" lengthAdjust="spacingAndGlyphs">414</text>
<line x1="950.00" x2="952.50" y1="148.78" y2="148.78" stroke="#444" stroke-width="1"/>
<text x="954.6" y="153.28" class="cbt" textLength="23.5" lengthAdjust="spacingAndGlyphs">416</text>
<line x1="950.00" x2="952.50" y1="106.44" y2="106.44" stroke="#444" stroke-width="1"/>
<text x="954.6" y="110.94" class="cbt" textLength="23.5" lengthAdjust="spacingAndGlyphs">418</text>
<line x1="950.00" x2="952.50" y1="64.10" y2="64.10" stroke="#444" stroke-width="1"/>
<text x="954.6" y="68.60" class="cbt" textLength="23.5" lengthAdjust="spacingAndGlyphs">420</text>
<text x="481.8" y="601" class="ax" text-anchor="middle" textLength="350.6" lengthAdjust="spacingAndGlyphs">Potential values of 'biomarker' for cutpoint 1</text>
<text x="482.4" y="623" class="ax" text-anchor="middle" textLength="591.2" lengthAdjust="spacingAndGlyphs">high AIC values: light colors; low AIC values: dark colours; min AIC: 409.15</text>
<text transform="translate(27.2,288.3) rotate(-90)" class="ax" text-anchor="middle" textLength="351.4" lengthAdjust="spacingAndGlyphs">Potential values of 'biomarker' for cutpoint 2</text>
<path d="M140.3 422.2 H322.2 V515.1 H140.3 V476.6 H133.7 V491.5 L108.5 469 L133.7 446.5 V460 H140.3 Z" fill="#fff" stroke="#0b1a29" stroke-width="2" stroke-linejoin="miter"/>
<text x="150.5" y="448" class="bx" textLength="47.5" lengthAdjust="spacingAndGlyphs">x: 89</text>
<text x="150.5" y="476.5" class="bx" textLength="60.8" lengthAdjust="spacingAndGlyphs">y: 137</text>
<text x="150.5" y="505.2" class="bx" textLength="160.9" lengthAdjust="spacingAndGlyphs">z (=AIC): 409.15</text>
<path d="M91.7 464.1 L100.3 474.5 M99.9 464.1 L91.3 474.5" stroke="#ff1414" stroke-width="2.1" stroke-linecap="round" fill="none"/>
</svg>
</body></html>
